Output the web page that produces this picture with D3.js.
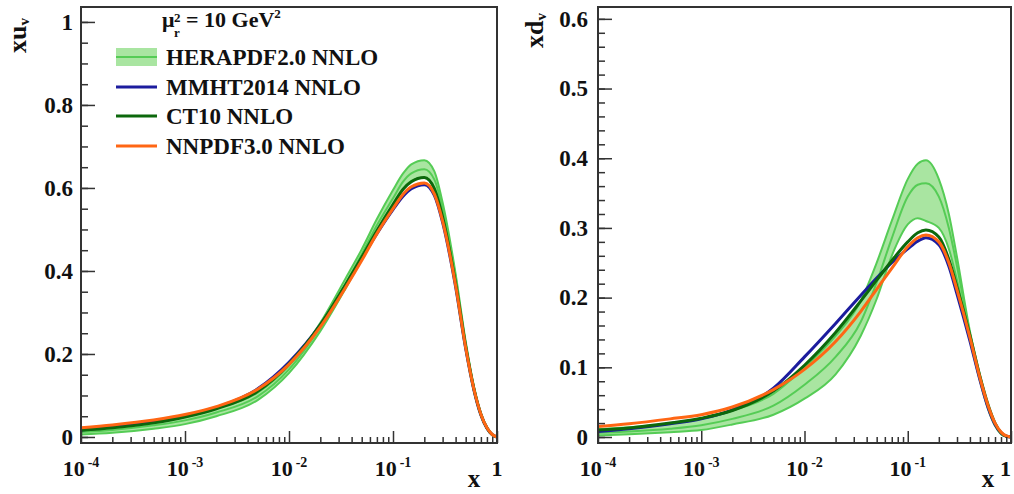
<!DOCTYPE html>
<html>
<head>
<meta charset="utf-8">
<script src="https://cdn.jsdelivr.net/npm/d3@7"></script>
<style>
  body { margin: 0; background: #fff; }
  svg { display: block; }
  text { font-family: "Liberation Serif", "Times New Roman", serif; font-weight: bold; fill: #111; }
</style>
</head>
<body>
<div id="chart"></div>
<script>
// x grid shared by every curve (log spaced, denser around the peak)
const xGrid = [1e-4, 2e-4, 5e-4, 1e-3, 2e-3, 5e-3, 0.01, 0.02, 0.035, 0.05, 0.07, 0.1,
               0.125, 0.15, 0.2, 0.25, 0.3, 0.4, 0.5, 0.6, 0.7, 0.8, 0.9, 1];

// xu_v at mu_f^2 = 10 GeV^2
const xuHera   = [0.012, 0.017, 0.028, 0.040, 0.059, 0.098, 0.163, 0.265, 0.370, 0.440, 0.510, 0.575,
                  0.615, 0.635, 0.645, 0.620, 0.550, 0.385, 0.225, 0.118, 0.055, 0.021, 0.005, 0];
const xuHeraHi = [0.018, 0.024, 0.036, 0.049, 0.068, 0.107, 0.172, 0.275, 0.382, 0.452, 0.525, 0.595,
                  0.635, 0.657, 0.667, 0.640, 0.565, 0.393, 0.230, 0.122, 0.057, 0.022, 0.0055, 0];
const xuHeraLo = [0.006, 0.010, 0.020, 0.031, 0.050, 0.089, 0.154, 0.255, 0.358, 0.428, 0.495, 0.557,
                  0.597, 0.617, 0.625, 0.600, 0.535, 0.377, 0.220, 0.114, 0.053, 0.020, 0.0048, 0];
const xuMmht   = [0.017, 0.024, 0.036, 0.050, 0.071, 0.116, 0.180, 0.270, 0.365, 0.430, 0.490, 0.548,
                  0.580, 0.598, 0.608, 0.582, 0.517, 0.362, 0.213, 0.113, 0.053, 0.021, 0.0055, 0];
const xuCt10   = [0.016, 0.022, 0.034, 0.048, 0.068, 0.110, 0.176, 0.270, 0.367, 0.433, 0.497, 0.560,
                  0.597, 0.615, 0.625, 0.598, 0.530, 0.370, 0.218, 0.116, 0.055, 0.022, 0.0055, 0];
const xuNnpdf  = [0.022, 0.029, 0.041, 0.054, 0.073, 0.115, 0.175, 0.265, 0.360, 0.425, 0.490, 0.550,
                  0.585, 0.603, 0.612, 0.585, 0.520, 0.365, 0.215, 0.115, 0.055, 0.022, 0.006, 0];

// xd_v at mu_f^2 = 10 GeV^2
const xdHera   = [0.006, 0.008, 0.012, 0.017, 0.026, 0.045, 0.075, 0.115, 0.165, 0.222, 0.285, 0.345,
                  0.362, 0.364, 0.345, 0.300, 0.245, 0.148, 0.085, 0.043, 0.018, 0.005, 0.0008, 0];
const xdHeraHi = [0.011, 0.014, 0.019, 0.026, 0.038, 0.062, 0.100, 0.145, 0.195, 0.250, 0.310, 0.370,
                  0.392, 0.397, 0.370, 0.320, 0.258, 0.152, 0.089, 0.046, 0.020, 0.006, 0.001, 0];
const xdHeraLo = [0.002, 0.004, 0.007, 0.010, 0.018, 0.032, 0.055, 0.090, 0.145, 0.198, 0.260, 0.305,
                  0.314, 0.310, 0.300, 0.270, 0.225, 0.140, 0.081, 0.040, 0.016, 0.004, 0.0006, 0];
const xdMmht   = [0.008, 0.012, 0.019, 0.026, 0.039, 0.070, 0.115, 0.163, 0.203, 0.228, 0.250, 0.270,
                  0.281, 0.286, 0.276, 0.245, 0.205, 0.138, 0.082, 0.042, 0.018, 0.006, 0.001, 0];
const xdCt10   = [0.010, 0.013, 0.020, 0.027, 0.038, 0.066, 0.103, 0.150, 0.195, 0.225, 0.253, 0.280,
                  0.293, 0.297, 0.287, 0.255, 0.215, 0.146, 0.087, 0.046, 0.020, 0.0065, 0.0012, 0];
const xdNnpdf  = [0.015, 0.019, 0.026, 0.032, 0.043, 0.068, 0.097, 0.137, 0.180, 0.212, 0.242, 0.273,
                  0.286, 0.290, 0.280, 0.250, 0.211, 0.143, 0.085, 0.045, 0.020, 0.007, 0.0015, 0];

const legendNames = ["HERAPDF2.0 NNLO", "MMHT2014 NNLO", "CT10 NNLO", "NNPDF3.0 NNLO"];
const xDecades = [-4, -3, -2, -1, 0];
const xuTicks = [0, 0.2, 0.4, 0.6, 0.8, 1];
const xdTicks = [0, 0.1, 0.2, 0.3, 0.4, 0.5, 0.6];

const colors = { band: "#a9e5a1", bandLine: "#55cc55", mmht: "#1c1c9e", ct10: "#0c680c", nnpdf: "#ff6614" };

const svg = d3.select("#chart").append("svg").attr("width", 1014).attr("height", 494);
const frameTop = 7, frameBottom = 443;

function drawPanel(p) {
  const x = d3.scaleLog().domain([1e-4, 1]).range([p.left, p.right]);
  const y = d3.scaleLinear().domain(p.yDomain).range([frameBottom, frameTop]);
  const g = svg.append("g");

  g.append("clipPath").attr("id", p.id)
    .append("rect").attr("x", p.left).attr("y", frameTop).attr("width", p.right - p.left).attr("height", frameBottom - frameTop);
  const plot = g.append("g").attr("clip-path", `url(#${p.id})`);

  const line = vals => d3.line().x((d, i) => x(xGrid[i])).y(d => y(d)).curve(d3.curveMonotoneX)(vals);
  const area = d3.area().x((d, i) => x(xGrid[i])).y0((d, i) => y(p.lo[i])).y1((d, i) => y(p.hi[i]))
    .curve(d3.curveMonotoneX);

  // HERAPDF band with its edges and central line
  plot.append("path").attr("d", area(xGrid)).attr("fill", colors.band);
  [p.lo, p.hi, p.hera].forEach(v => plot.append("path").attr("d", line(v))
    .attr("fill", "none").attr("stroke", colors.bandLine).attr("stroke-width", 2));

  // other PDF sets
  [[p.mmht, colors.mmht], [p.ct10, colors.ct10], [p.nnpdf, colors.nnpdf]].forEach(([v, c]) =>
    plot.append("path").attr("d", line(v)).attr("fill", "none").attr("stroke", c).attr("stroke-width", 3));

  // x axis: minor and major ticks pointing inside
  const minor = [];
  xDecades.slice(0, -1).forEach(e => d3.range(2, 10).forEach(k => minor.push(k * Math.pow(10, e))));
  g.append("g").attr("transform", `translate(0,${frameBottom})`)
    .call(d3.axisBottom(x).tickValues(minor).tickSize(-6).tickFormat(""))
    .call(a => a.select(".domain").remove());
  g.append("g").attr("transform", `translate(0,${frameBottom})`)
    .call(d3.axisBottom(x).tickValues(xDecades.map(e => Math.pow(10, e))).tickSize(-12).tickFormat(""))
    .call(a => a.select(".domain").remove());

  xDecades.forEach(e => {
    const last = e === 0;
    const t = g.append("text").attr("x", last ? Math.min(x(1), 1013) : x(Math.pow(10, e))).attr("y", 476)
      .attr("text-anchor", last && x(1) > 1000 ? "end" : "middle").style("font-size", "22px");
    if (last) { t.text("1"); return; }
    t.append("tspan").text("10");
    t.append("tspan").attr("dx", 3).attr("dy", -9).style("font-size", "14px").text(e);
  });

  // y axis
  g.append("g").attr("transform", `translate(${p.left},0)`)
    .call(d3.axisLeft(y).tickValues(d3.range(0, p.yMax + 1e-9, p.minorStep)).tickSize(-7).tickFormat(""))
    .call(a => a.select(".domain").remove());
  g.append("g").attr("transform", `translate(${p.left},0)`)
    .call(d3.axisLeft(y).tickValues(p.ticks).tickSize(-14).tickPadding(p.pad).tickFormat(d3.format("")))
    .call(a => a.select(".domain").remove())
    .call(a => a.selectAll("text").style("font-size", "23px").attr("fill", "#111"));

  g.selectAll(".tick line").attr("stroke", "#333").attr("stroke-width", 1.5);

  // frame
  g.append("rect").attr("x", p.left).attr("y", frameTop).attr("width", p.right - p.left).attr("height", frameBottom - frameTop)
    .attr("fill", "none").attr("stroke", "#333").attr("stroke-width", 2);

  // axis titles
  const yt = g.append("text").attr("transform", `translate(${p.left - 55},${p.titleY}) rotate(-90)`)
    .attr("text-anchor", "end").style("font-size", "26px");
  yt.append("tspan").text(p.name);
  yt.append("tspan").attr("dy", 3).style("font-size", "15px").text("v");
  g.append("text").attr("x", p.right - 23).attr("y", 487).attr("text-anchor", "middle")
    .style("font-size", "25px").text("x");
}

drawPanel({ id: "clipU", left: 81, right: 497, yDomain: [-0.0145, 1.036], yMax: 1, minorStep: 0.05,
  ticks: xuTicks, pad: 8, name: "xu", titleY: 18,
  hera: xuHera, hi: xuHeraHi, lo: xuHeraLo, mmht: xuMmht, ct10: xuCt10, nnpdf: xuNnpdf });
drawPanel({ id: "clipD", left: 598, right: 1011, yDomain: [-0.0086, 0.617], yMax: 0.6, minorStep: 0.02,
  ticks: xdTicks, pad: 10, name: "xd", titleY: 13,
  hera: xdHera, hi: xdHeraHi, lo: xdHeraLo, mmht: xdMmht, ct10: xdCt10, nnpdf: xdNnpdf });

// legend (left panel)
const lg = svg.append("g");
lg.append("text").attr("x", 162).attr("y", 27).style("font-size", "22px").text("μ");
lg.append("text").attr("x", 174).attr("y", 22).style("font-size", "13px").text("2");
lg.append("text").attr("x", 174).attr("y", 37).style("font-size", "13px").text("r");
lg.append("text").attr("x", 186).attr("y", 27).style("font-size", "22px").text("= 10 GeV")
  .append("tspan").attr("dy", -9).style("font-size", "13px").text("2");

const rows = [57, 87, 116, 146];
legendNames.forEach((name, i) => {
  const yy = rows[i];
  if (i === 0) {
    lg.append("rect").attr("x", 116).attr("y", yy - 9).attr("width", 41).attr("height", 18).attr("fill", colors.band);
    lg.append("line").attr("x1", 116).attr("x2", 157).attr("y1", yy).attr("y2", yy)
      .attr("stroke", colors.bandLine).attr("stroke-width", 2);
  } else {
    lg.append("line").attr("x1", 116).attr("x2", 157).attr("y1", yy).attr("y2", yy)
      .attr("stroke", [colors.mmht, colors.ct10, colors.nnpdf][i - 1]).attr("stroke-width", 3);
  }
  lg.append("text").attr("x", 166).attr("y", yy).attr("dy", "0.35em").style("font-size", "23px").text(name);
});
</script>
</body>
</html>
